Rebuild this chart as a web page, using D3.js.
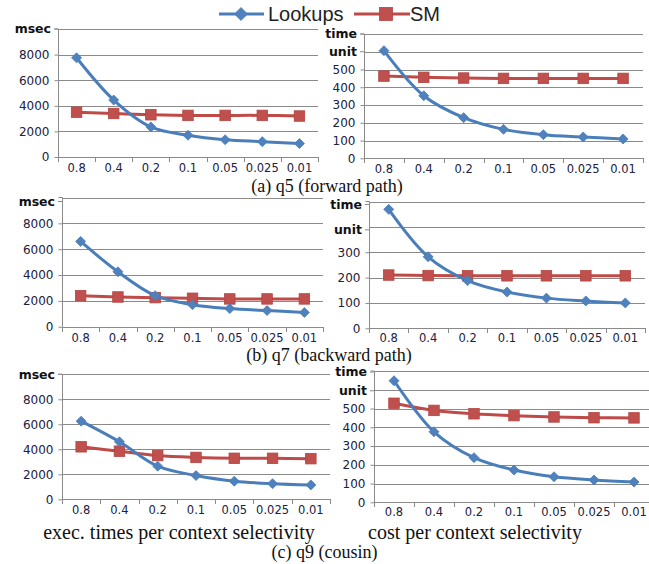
<!DOCTYPE html>
<html>
<head>
<meta charset="utf-8">
<script src="https://cdn.jsdelivr.net/npm/d3@7"></script>
<style>
  html, body { margin: 0; padding: 0; background: #fff; }
  svg { display: block; }
</style>
</head>
<body>
<svg id="chart" width="649" height="564"></svg>
<script>
// ---------------- DATA ----------------
const categories = ["0.8", "0.4", "0.2", "0.1", "0.05", "0.025", "0.01"];
const seriesNames = ["Lookups", "SM"];

const q5TimeLookups = [7750, 4450, 2350, 1700, 1350, 1200, 1050];
const q5TimeSM      = [3500, 3400, 3300, 3250, 3250, 3250, 3200];
const q5CostLookups = [606, 352, 229, 163, 133, 120, 109];
const q5CostSM      = [463, 456, 452, 450, 450, 450, 450];

const q7TimeLookups = [6600, 4250, 2400, 1700, 1400, 1250, 1100];
const q7TimeSM      = [2400, 2300, 2250, 2200, 2150, 2150, 2150];
const q7CostLookups = [469, 282, 188, 143, 119, 108, 100];
const q7CostSM      = [210, 208, 207, 207, 207, 207, 207];

const q9TimeLookups = [6250, 4600, 2650, 1900, 1450, 1250, 1150];
const q9TimeSM      = [4200, 3850, 3500, 3350, 3280, 3280, 3250];
const q9CostLookups = [648, 376, 238, 172, 136, 119, 108];
const q9CostSM      = [528, 490, 472, 462, 455, 451, 450];

const timeTicks = [0, 2000, 4000, 6000, 8000];
const timeMax = 10000;
const timeUnitLabels = ["msec"];
const costTicksTall = [0, 100, 200, 300, 400, 500];
const costMaxTall = 700;
const costTicksShort = [0, 100, 200, 300];
const costMaxShort = 500;
const costUnitLabels = ["time", "unit"];

const captions = ["(a) q5 (forward path)", "(b) q7 (backward path)", "(c) q9 (cousin)"];
const bottomTitles = ["exec. times per context selectivity", "cost per context selectivity"];

// ---------------- STYLE / LAYOUT ----------------
const BLUE = "#4a7ebb", BLUE_M = "#4f81bd";
const RED = "#be4b48", RED_M = "#c0504d";
const GRID = "#8a8a8a";
const TICKFONT = "'DejaVu Sans', Verdana, sans-serif";

const panels = [
  { lk: q5TimeLookups, sm: q5TimeSM, ticks: timeTicks, max: timeMax, units: timeUnitLabels,
    left: 58, right: 318, top: 29, bottom: 157, unitDy: 0, pad: 6 },
  { lk: q5CostLookups, sm: q5CostSM, ticks: costTicksTall, max: costMaxTall, units: costUnitLabels,
    left: 364, right: 643, top: 34, bottom: 158.3, unitDy: 0, pad: 6 },
  { lk: q7TimeLookups, sm: q7TimeSM, ticks: timeTicks, max: timeMax, units: timeUnitLabels,
    left: 62, right: 323, top: 197.5, bottom: 326.7, unitDy: 4, pad: 6 },
  { lk: q7CostLookups, sm: q7CostSM, ticks: costTicksShort, max: costMaxShort, units: costUnitLabels,
    left: 369, right: 645, top: 201.5, bottom: 328.3, unitDy: 3, pad: 5 },
  { lk: q9TimeLookups, sm: q9TimeSM, ticks: timeTicks, max: timeMax, units: timeUnitLabels,
    left: 62, right: 330, top: 374.3, bottom: 499.3, unitDy: 0, pad: 6 },
  { lk: q9CostLookups, sm: q9CostSM, ticks: costTicksTall, max: costMaxTall, units: costUnitLabels,
    left: 374, right: 654, top: 371, bottom: 502.3, unitDy: 1, pad: 5 }
];

const svg = d3.select("#chart");

function diamond(g, x, y, r, fill) {
  g.append("path")
    .attr("d", `M${x},${y - r}L${x + r},${y}L${x},${y + r}L${x - r},${y}Z`)
    .attr("fill", fill).attr("stroke", BLUE).attr("stroke-width", 0.8);
}
function square(g, x, y, s, fill) {
  g.append("rect")
    .attr("x", x - s / 2).attr("y", y - s / 2).attr("width", s).attr("height", s)
    .attr("fill", fill).attr("stroke", "#b24542").attr("stroke-width", 0.8);
}

panels.forEach(p => {
  const g = svg.append("g");
  const x = d3.scaleBand().domain(categories).range([p.left, p.right]).padding(0);
  const y = d3.scaleLinear().domain([0, p.max]).range([p.bottom, p.top]);

  // gridlines including top
  const gridVals = d3.range(0, p.max + 1, p.ticks[1] - p.ticks[0]);
  g.selectAll("line.grid").data(gridVals).enter().append("line")
    .attr("x1", p.left).attr("x2", p.right)
    .attr("y1", d => Math.round(y(d)) + 0.5).attr("y2", d => Math.round(y(d)) + 0.5)
    .attr("stroke", GRID).attr("stroke-width", 1);

  // y axis (line + ticks + labels)
  const yAxis = d3.axisLeft(y).tickValues(p.ticks).tickSize(4).tickPadding(5)
    .tickFormat(d3.format("d"));
  const ya = g.append("g").attr("transform", `translate(${Math.round(p.left) + 0.5},0)`).call(yAxis);
  ya.select(".domain").attr("stroke", GRID).attr("d", `M-4,${p.top}H0V${p.bottom}`);
  ya.selectAll(".tick line").attr("stroke", GRID);
  ya.selectAll(".tick text").attr("font-family", TICKFONT).attr("font-size", 12).attr("fill", "#202040");

  // unit labels at the top gridlines
  p.units.forEach((u, i) => {
    const v = p.max - i * (p.ticks[1] - p.ticks[0]);
    g.append("line").attr("x1", p.left - 4).attr("x2", p.left)
      .attr("y1", y(v) + p.unitDy).attr("y2", y(v) + p.unitDy).attr("stroke", GRID);
    g.append("text").attr("x", p.left - 7).attr("y", y(v) + p.unitDy).attr("dy", "0.35em")
      .attr("text-anchor", "end").attr("font-family", TICKFONT).attr("font-weight", "bold")
      .attr("font-size", 12.5).attr("fill", "#111").text(u);
  });

  // x axis
  const xAxis = d3.axisBottom(x).tickSize(0).tickPadding(p.pad);
  const xa = g.append("g").attr("transform", `translate(0,${Math.round(p.bottom) + 0.5})`).call(xAxis);
  xa.select(".domain").remove();
  xa.selectAll(".tick text").attr("font-family", TICKFONT).attr("font-size", 11.5).attr("fill", "#202040");
  // boundary tick marks
  const bounds = categories.map(c => x(c)).concat([p.right]);
  g.selectAll("line.xt").data(bounds).enter().append("line")
    .attr("x1", d => Math.round(d) + 0.5).attr("x2", d => Math.round(d) + 0.5)
    .attr("y1", Math.round(p.bottom)).attr("y2", Math.round(p.bottom) + 5)
    .attr("stroke", GRID);

  const cx = c => x(c) + x.bandwidth() / 2;
  const line = d3.line().x((d, i) => cx(categories[i])).y(d => y(d)).curve(d3.curveCatmullRom);

  g.append("path").attr("d", line(p.sm)).attr("fill", "none")
    .attr("stroke", RED).attr("stroke-width", 3);
  p.sm.forEach((v, i) => square(g, cx(categories[i]), y(v), 10.5, RED_M));

  g.append("path").attr("d", line(p.lk)).attr("fill", "none")
    .attr("stroke", BLUE).attr("stroke-width", 3);
  p.lk.forEach((v, i) => diamond(g, cx(categories[i]), y(v), 5, BLUE_M));
});

// ---------------- LEGEND ----------------
const lg = svg.append("g");
lg.append("line").attr("x1", 219).attr("x2", 264).attr("y1", 14).attr("y2", 14)
  .attr("stroke", BLUE).attr("stroke-width", 3);
diamond(lg, 241, 14, 6.5, BLUE_M);
lg.append("text").attr("x", 268).attr("y", 14).attr("dy", "0.36em")
  .attr("font-family", "'Liberation Sans', Arial, sans-serif").attr("font-size", 20)
  .attr("fill", "#222").text(seriesNames[0]);
lg.append("line").attr("x1", 354).attr("x2", 410).attr("y1", 14).attr("y2", 14)
  .attr("stroke", RED).attr("stroke-width", 3);
square(lg, 386, 14, 13, RED_M);
lg.append("text").attr("x", 410).attr("y", 14).attr("dy", "0.36em")
  .attr("font-family", "'Liberation Sans', Arial, sans-serif").attr("font-size", 20)
  .attr("fill", "#222").text(seriesNames[1]);

// ---------------- CAPTIONS ----------------
const SERIF = "'Liberation Serif', 'Times New Roman', serif";
const capPos = [[327, 192], [329, 361], [324.5, 558]];
captions.forEach((c, i) => {
  svg.append("text").attr("x", capPos[i][0]).attr("y", capPos[i][1])
    .attr("text-anchor", "middle").attr("font-family", SERIF).attr("font-size", 18)
    .attr("fill", "#111").text(c);
});
const titlePos = [[179, 538.5], [475, 538.5]];
bottomTitles.forEach((t, i) => {
  svg.append("text").attr("x", titlePos[i][0]).attr("y", titlePos[i][1])
    .attr("text-anchor", "middle").attr("font-family", SERIF).attr("font-size", 20)
    .attr("fill", "#111").text(t);
});
</script>
</body>
</html>
